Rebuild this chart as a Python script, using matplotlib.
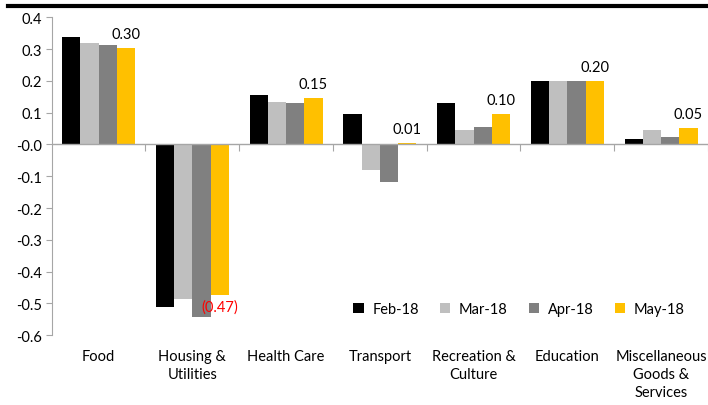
import matplotlib
matplotlib.use("Agg")
import matplotlib.pyplot as plt
from matplotlib.patches import Patch
from matplotlib.lines import Line2D
import numpy as np

plt.rcParams['font.family'] = ['Lato', 'DejaVu Sans']
plt.rcParams['font.size'] = 10

categories = ["Food", "Housing &\nUtilities", "Health Care", "Transport",
              "Recreation &\nCulture", "Education", "Miscellaneous\nGoods &\nServices"]
series_names = ["Feb-18", "Mar-18", "Apr-18", "May-18"]
feb18 = [0.337, -0.512, 0.156, 0.097, 0.130, 0.200, 0.017]
mar18 = [0.319, -0.486, 0.133, -0.081, 0.046, 0.200, 0.046]
apr18 = [0.312, -0.541, 0.130, -0.118, 0.055, 0.200, 0.023]
may18 = [0.302, -0.473, 0.147, 0.006, 0.097, 0.200, 0.053]
colors = ["#000000", "#BFBFBF", "#808080", "#FFC000"]

AXIS_GREY = "#A6A6A6"

fig = plt.figure(figsize=(7.08, 4.06), dpi=100)
ax = fig.add_axes([0.073, 0.1717, 0.927, 0.7833])

x = np.arange(len(categories))
width = 0.195
series = [feb18, mar18, apr18, may18]
for i, (vals, name, col) in enumerate(zip(series, series_names, colors)):
    ax.bar(x + (i - 1.5) * width, vals, width, color=col, label=name, zorder=2)

# labels above / below the May-18 bars
for xi, v in zip(x, may18):
    xpos = xi + 1.5 * width
    if v >= 0:
        ax.annotate(f"{v:.2f}", (xpos, v), xytext=(0, 5), textcoords="offset points",
                    ha="center", va="bottom", fontsize=10.5, color="black")
    else:
        ax.annotate(f"({abs(v):.2f})", (xpos, v), xytext=(0, -3), textcoords="offset points",
                    ha="center", va="top", fontsize=10.5, color="red")

ax.set_xlim(-0.5, len(categories) - 0.5)
ax.set_ylim(-0.6, 0.4)
ax.set_yticks(np.arange(-0.6, 0.41, 0.1))
ax.set_yticklabels([f"{t:.1f}" for t in np.arange(-0.6, 0.41, 0.1)], fontsize=10.5)
ax.set_xticks(x)
ax.set_xticklabels(categories, fontsize=10.5, linespacing=1.35)
ax.tick_params(axis="x", length=0, pad=10)
ax.tick_params(axis="y", length=4, color=AXIS_GREY, pad=3)

for s in ["top", "right", "bottom"]:
    ax.spines[s].set_visible(False)
ax.spines["left"].set_color(AXIS_GREY)

# zero line acting as category axis, with boundary ticks pointing down
ax.axhline(0, color=AXIS_GREY, lw=1, zorder=3)
sec = ax.secondary_xaxis(0.6)
sec.set_xticks(np.arange(0.5, len(categories), 1.0))
sec.set_xticklabels([])
sec.tick_params(axis="x", length=5, color=AXIS_GREY, bottom=True, top=False,
                labelbottom=False, labeltop=False, direction="out")
for s in sec.spines.values():
    s.set_visible(False)

handles = [Patch(facecolor=c, edgecolor="none") for c in colors]
fig.legend(handles, series_names, loc="center left", bbox_to_anchor=(0.499, 0.236),
           ncol=4, frameon=False, fontsize=10.5, handlelength=0.7, handleheight=0.7,
           handletextpad=0.6, columnspacing=1.45, borderpad=0, borderaxespad=0)

# black rule at the top
fig.add_artist(Line2D([0.011, 1.0], [0.9835, 0.9835], color="black", lw=3,
                      transform=fig.transFigure))

fig.savefig("out.png", dpi=100)
